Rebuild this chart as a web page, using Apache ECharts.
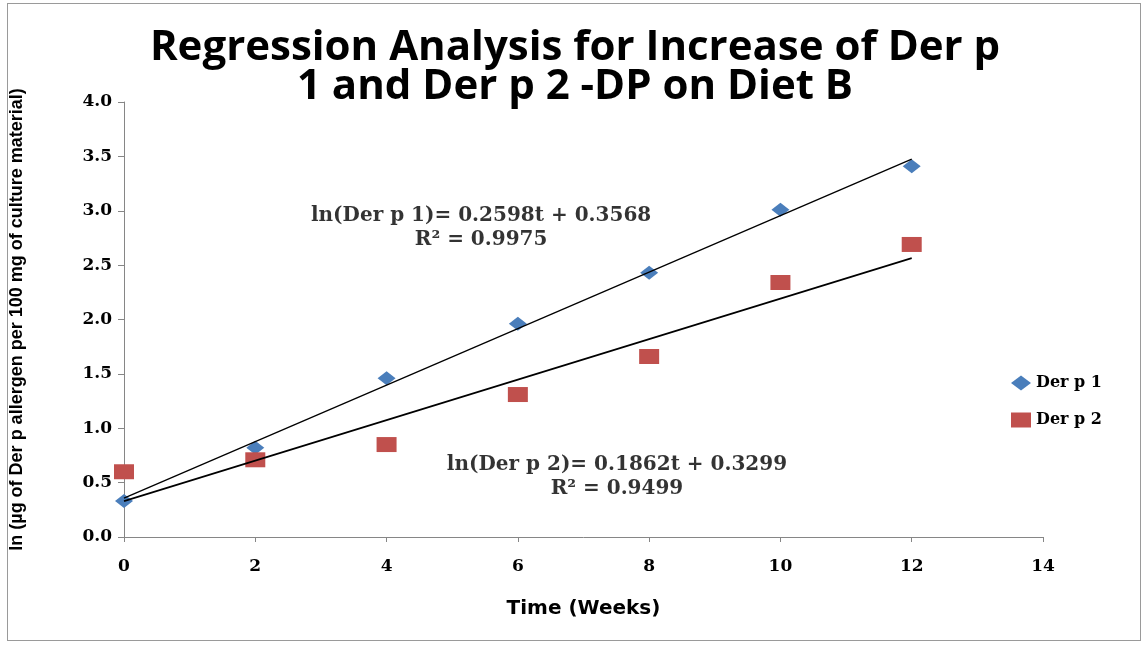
<!DOCTYPE html>
<html><head><meta charset="utf-8">
<script src="https://cdn.jsdelivr.net/npm/echarts@6/dist/echarts.min.js"></script>
<style>html,body{margin:0;padding:0;background:#fff}#c{width:1144px;height:648px}
#frame{position:absolute;left:7px;top:3px;width:1134px;height:638px;border:1px solid #9a9a9a;box-sizing:border-box;pointer-events:none}</style>
</head><body><div id="c"></div><div id="frame"></div>
<script>
const weeks = [0, 2, 4, 6, 8, 10, 12];
const derp1 = [0.33, 0.82, 1.46, 1.96, 2.43, 3.01, 3.41];
const derp2 = [0.60, 0.71, 0.85, 1.31, 1.66, 2.34, 2.69];
const trendX = [0, 12];
const trend1 = [0.3568, 3.4744];
const trend2 = [0.3299, 2.5643];
const yTicks = ['0.0','0.5','1.0','1.5','2.0','2.5','3.0','3.5','4.0'];
const eq1 = ['ln(Der p 1)= 0.2598t + 0.3568', 'R² = 0.9975'];
const eq2 = ['ln(Der p 2)= 0.1862t + 0.3299', 'R² = 0.9499'];

const serif = 'DejaVu Serif';
const chart = echarts.init(document.getElementById('c'));
const pair = (xs, ys) => xs.map((x, i) => [x, ys[i]]);
chart.setOption({
  animation: false,
  title: {
    text: 'Regression Analysis for Increase of Der p\n1 and Der p 2 -DP on Diet B',
    left: 570, top: 24, textAlign: 'center',
    textStyle: {fontFamily: 'Open Sans', fontWeight: 'bold', fontSize: 42, lineHeight: 39, color: '#000'}
  },
  legend: {
    data: ['Der p 1', 'Der p 2'], orient: 'vertical', left: 1006, top: 370,
    itemWidth: 20, itemHeight: 15, itemGap: 21,
    textStyle: {fontFamily: serif, fontWeight: 'bold', fontSize: 16, color: '#000'}
  },
  grid: {left: 124, right: 101, top: 102, bottom: 111},
  xAxis: {
    type: 'value', min: 0, max: 14, interval: 2,
    name: 'Time (Weeks)', nameLocation: 'middle', nameGap: 62,
    nameTextStyle: {fontFamily: 'DejaVu Sans', fontWeight: 'bold', fontSize: 20, color: '#000'},
    axisLine: {lineStyle: {color: '#868686'}},
    axisTick: {show: true, length: 5, lineStyle: {color: '#868686'}},
    splitLine: {show: false},
    axisLabel: {fontFamily: serif, fontWeight: 'bold', fontSize: 17, color: '#000', margin: 21}
  },
  yAxis: {
    type: 'value', min: 0, max: 4, interval: 0.5,
    name: 'ln (µg of Der p allergen per 100 mg of culture material)', nameLocation: 'middle', nameGap: 98,
    nameTextStyle: {fontFamily: 'Liberation Sans', fontWeight: 'bold', fontSize: 18, color: '#000'},
    axisLine: {show: true, lineStyle: {color: '#868686'}},
    axisTick: {show: true, length: 6, lineStyle: {color: '#868686'}},
    splitLine: {show: false},
    axisLabel: {fontFamily: serif, fontWeight: 'bold', fontSize: 17, color: '#000', margin: 12,
      formatter: (v) => yTicks[Math.round(v * 2)]}
  },
  series: [
    {name: 'trend1', type: 'line', data: pair(trendX, trend1), showSymbol: false, symbol: 'none',
      lineStyle: {color: '#000', width: 1.3}, z: 3, silent: true},
    {name: 'trend2', type: 'line', data: pair(trendX, trend2), showSymbol: false, symbol: 'none',
      lineStyle: {color: '#000', width: 1.6}, z: 3, silent: true},
    {name: 'Der p 1', type: 'scatter', data: pair(weeks, derp1), symbol: 'diamond', symbolSize: [18, 14],
      itemStyle: {color: '#4A7EBB', opacity: 1}, z: 2},
    {name: 'Der p 2', type: 'scatter', data: pair(weeks, derp2), symbol: 'rect', symbolSize: [20, 15],
      itemStyle: {color: '#C0504D', opacity: 1}, z: 2},
    {name: 'eq', type: 'scatter', symbolSize: 0, silent: true, z: 5,
      data: [[5.44, 2.84, eq1.join('\n')], [7.51, 0.55, eq2.join('\n')]],
      label: {show: true, position: 'inside', formatter: (p) => p.data[2],
        fontFamily: serif, fontWeight: 'bold', fontSize: 20, lineHeight: 24, color: '#000', align: 'center'}}
  ]
});
</script></body></html>
